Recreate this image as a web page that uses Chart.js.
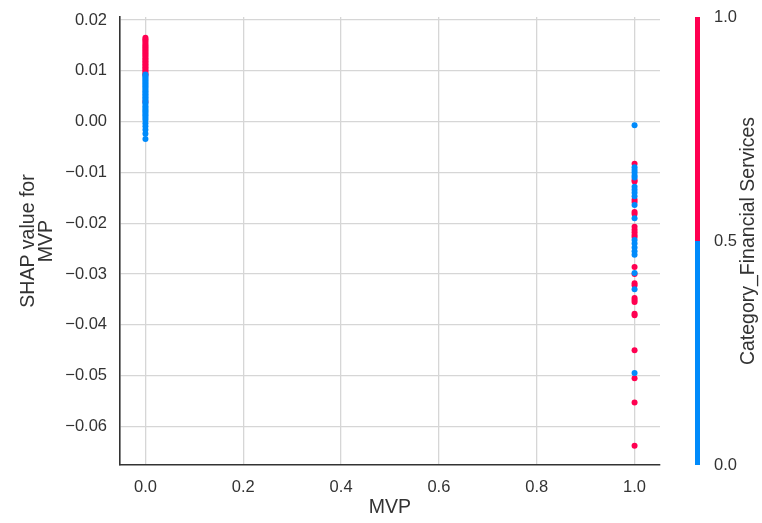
<!DOCTYPE html>
<html lang="en">
<head>
    <meta charset="UTF-8">
    <title>SHAP dependence: MVP</title>
    <script src="https://cdn.jsdelivr.net/npm/chart.js"></script>
    <style>
        body { margin: 0; background: #fff; }
        #wrap { width: 762px; height: 523px; }
    </style>
</head>
<body>
    <div id="wrap"><canvas id="shapChart"></canvas></div>

    <script>
        // SHAP values for MVP, split by Category_Financial Services (0 = blue, 1 = red)
        const blueAt0 = [0.0093, 0.0090, 0.0087, 0.0084, 0.0081, 0.0078, 0.0075, 0.0072, 0.0069, 0.0066,
                         0.0063, 0.0060, 0.0057, 0.0054, 0.0051, 0.0048, 0.0045, 0.0042, 0.0038, 0.0035,
                         0.0031, 0.0028, 0.0024, 0.0021, 0.0018, 0.0014, 0.0011, 0.0007, 0.0003, -0.0003,
                         -0.0009, -0.0016, -0.0024, -0.0034];
        const redAt0 = [0.0165, 0.0162, 0.0159, 0.0156, 0.0152, 0.0149, 0.0146, 0.0143, 0.0140, 0.0137,
                        0.0134, 0.0131, 0.0128, 0.0125, 0.0122, 0.0119, 0.0116, 0.0113, 0.0110, 0.0107,
                        0.0104, 0.0101, 0.0098, 0.0095, 0.0092, 0.0039];
        const blueAt1 = [-0.0007, -0.0090, -0.0095, -0.0100, -0.0106, -0.0110, -0.0128, -0.0134, -0.0140,
                         -0.0147, -0.0164, -0.0190, -0.0233, -0.0240, -0.0248, -0.0255, -0.0262, -0.0298,
                         -0.0330, -0.0495];
        const redAt1 = [-0.0083, -0.0115, -0.0118, -0.0154, -0.0158, -0.0178, -0.0182, -0.0207, -0.0213,
                        -0.0218, -0.0223, -0.0227, -0.0286, -0.0300, -0.0318, -0.0322, -0.0347, -0.0351,
                        -0.0355, -0.0378, -0.0381, -0.0450, -0.0505, -0.0553, -0.0638];

        const xTicks = [0, 0.2, 0.4, 0.6, 0.8, 1.0];
        const yTicks = [0.02, 0.01, 0, -0.01, -0.02, -0.03, -0.04, -0.05, -0.06];
        const colorTicks = [0, 0.5, 1.0];

        const BLUE = '#008bfb';
        const RED = '#ff0051';
        const FONT = "'Liberation Sans', Arial, sans-serif";
        const TEXT = '#333333';
        const TICK_SIZE = 16.5;
        const LABEL_SIZE = 19.5;

        const toPoints = (x, ys) => ys.map(y => ({ x: x, y: y }));
        const fmt = (v, d) => v.toFixed(d).replace('-', '\u2212');

        // vertical axes: fixed width, and no extra top/bottom padding from their tick labels
        const fixVertical = width => s => {
            s.width = width;
            s.paddingTop = 0;
            s.paddingBottom = 0;
        };

        // colour bar drawn along the 'c' scale
        const colorBar = {
            id: 'colorBar',
            afterDraw(chart) {
                const c = chart.scales.c;
                const ctx = chart.ctx;
                const x0 = chart.chartArea.right + 35;
                const w = 5;
                const yTop = c.getPixelForValue(1), yMid = c.getPixelForValue(0.5), yBot = c.getPixelForValue(0);
                ctx.save();
                ctx.fillStyle = RED;
                ctx.fillRect(x0, yTop, w, yMid - yTop);
                ctx.fillStyle = BLUE;
                ctx.fillRect(x0, yMid, w, yBot - yMid);
                ctx.translate(749, (yTop + yBot) / 2);
                ctx.rotate(-Math.PI / 2);
                ctx.fillStyle = TEXT;
                ctx.font = LABEL_SIZE + 'px ' + FONT;
                ctx.textAlign = 'center';
                ctx.textBaseline = 'middle';
                ctx.fillText('Category_Financial Services', 0, 0);
                ctx.restore();
            }
        };

        new Chart(document.getElementById('shapChart'), {
            type: 'scatter',
            data: {
                datasets: [
                    {
                        label: 'Category_Financial Services = 0',
                        data: toPoints(0, blueAt0).concat(toPoints(1, blueAt1)),
                        backgroundColor: BLUE,
                        borderWidth: 0,
                        pointRadius: 3
                    },
                    {
                        label: 'Category_Financial Services = 1',
                        data: toPoints(0, redAt0).concat(toPoints(1, redAt1)),
                        backgroundColor: RED,
                        borderWidth: 0,
                        pointRadius: 3
                    }
                ]
            },
            options: {
                responsive: true,
                maintainAspectRatio: false,
                animation: false,
                layout: { padding: { top: 17, left: 0, right: 0, bottom: 0 } },
                plugins: { legend: { display: false }, tooltip: { enabled: false } },
                scales: {
                    x: {
                        min: -0.052, max: 1.052,
                        afterBuildTicks: s => { s.ticks = xTicks.map(v => ({ value: v })); },
                        afterFit: s => { s.height = 58; s.paddingLeft = 0; s.paddingRight = 0; },
                        grid: { color: '#d6d6d6', lineWidth: 1.3, drawTicks: false },
                        border: { color: '#333333', width: 1.6 },
                        ticks: {
                            padding: 13, color: TEXT, font: { family: FONT, size: TICK_SIZE },
                            callback: v => fmt(v, 1)
                        },
                        title: {
                            display: true, text: 'MVP', color: TEXT,
                            font: { family: FONT, size: LABEL_SIZE }, padding: { top: 0 }
                        }
                    },
                    y: {
                        min: -0.0676, max: 0.0206,
                        afterBuildTicks: s => { s.ticks = yTicks.map(v => ({ value: v })); },
                        afterFit: fixVertical(120),
                        grid: { color: '#d6d6d6', lineWidth: 1.3, drawTicks: false },
                        border: { color: '#333333', width: 1.6 },
                        ticks: {
                            padding: 13, color: TEXT, font: { family: FONT, size: TICK_SIZE },
                            callback: v => fmt(v, 2)
                        },
                        title: {
                            display: true, text: ['SHAP value for', 'MVP'], color: TEXT,
                            font: { family: FONT, size: LABEL_SIZE, lineHeight: 0.95 },
                            padding: { top: 19, bottom: 0 }
                        }
                    },
                    c: {
                        position: 'right', axis: 'y',
                        min: 0, max: 1,
                        afterBuildTicks: s => { s.ticks = colorTicks.map(v => ({ value: v })); },
                        afterFit: fixVertical(102),
                        grid: { display: false },
                        border: { display: false },
                        ticks: {
                            padding: 46, color: TEXT, font: { family: FONT, size: TICK_SIZE },
                            callback: v => v.toFixed(1)
                        }
                    }
                }
            },
            plugins: [colorBar]
        });
    </script>
</body>
</html>
